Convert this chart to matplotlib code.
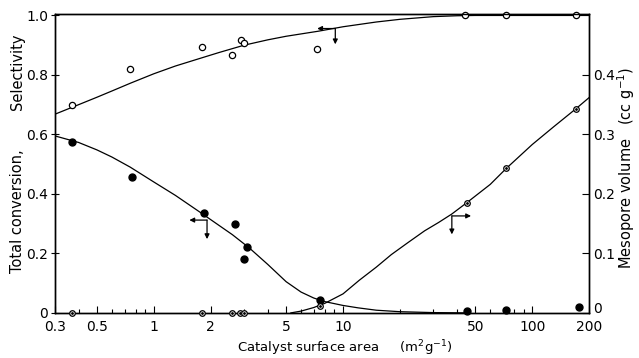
import matplotlib
matplotlib.use('Agg')
import matplotlib.pyplot as plt
from matplotlib.ticker import FixedLocator, NullFormatter

plt.rcParams['font.family'] = ['DejaVu Sans']

# selectivity (open circles, left axis)
sel_x = [0.37, 0.75, 1.8, 2.6, 2.9, 3.0, 7.3, 44, 73, 170]
sel_y = [0.70, 0.82, 0.893, 0.866, 0.919, 0.909, 0.886, 1.0, 1.0, 1.0]
sel_curve_x = [0.3, 0.4, 0.5, 0.6, 0.75, 1.0, 1.3, 1.7, 2.2, 3.0, 4.0, 5.0, 7.4, 10, 15, 20, 30, 40, 50, 200]
sel_curve_y = [0.668, 0.70, 0.725, 0.746, 0.772, 0.804, 0.83, 0.853, 0.875, 0.9, 0.918, 0.93, 0.947, 0.962, 0.978, 0.987, 0.996, 0.999, 1.0, 1.0]

# total conversion (filled circles, left axis)
conv_x = [0.37, 0.77, 1.85, 2.7, 3.1, 3.0, 7.6, 45, 73, 176]
conv_y = [0.575, 0.456, 0.336, 0.298, 0.222, 0.182, 0.042, 0.005, 0.01, 0.02]
conv_curve_x = [0.3, 0.4, 0.5, 0.6, 0.75, 1.0, 1.3, 1.74, 2.2, 2.6, 3.2, 4.0, 5.0, 6.0, 7.0, 8.0, 10, 12, 15, 20, 30, 45]
conv_curve_y = [0.595, 0.573, 0.548, 0.524, 0.49, 0.44, 0.395, 0.34, 0.295, 0.263, 0.218, 0.163, 0.105, 0.07, 0.05, 0.038, 0.025, 0.017, 0.009, 0.004, 0.001, 0.0]

# mesopore volume (dotted circles, right axis)
meso_x = [0.37, 1.8, 2.6, 2.85, 3.0, 7.6, 45, 73, 170]
meso_y = [0.0, 0.0, 0.0, 0.0, 0.0, 0.012, 0.185, 0.243, 0.343]
meso_curve_x = [5.3, 6.0, 7.0, 8.0, 10, 12.2, 15, 18, 22, 27, 32, 37.5, 45, 60, 73, 100, 130, 170, 200]
meso_curve_y = [0.0, 0.003, 0.009, 0.016, 0.032, 0.055, 0.077, 0.098, 0.118, 0.138, 0.152, 0.166, 0.185, 0.216, 0.243, 0.283, 0.313, 0.343, 0.362]

x_ticks = [0.3, 0.5, 1, 2, 5, 10, 50, 100, 200]
x_labels = ['0.3', '0.5', '1', '2', '5', '10', '50', '100', '200']
x_minor = [0.4, 0.6, 0.7, 0.8, 0.9, 3, 4, 6, 7, 8, 9, 20, 30, 40, 60, 70, 80, 90]
left_ticks = [0, 0.2, 0.4, 0.6, 0.8, 1.0]
left_labels = ['0', '0.2', '0.4', '0.6', '0.8', '1.0']
right_ticks = [0, 0.1, 0.2, 0.3, 0.4]
right_labels = ['0', '0.1', '0.2', '0.3', '0.4']

fig = plt.figure(figsize=(6.39, 3.58), dpi=100)
ax = fig.add_axes([0.086, 0.126, 0.836, 0.835])
ax2 = ax.twinx()

lw = 0.9
ax.plot(sel_curve_x, sel_curve_y, '-', color='k', lw=lw)
ax.plot(conv_curve_x, conv_curve_y, '-', color='k', lw=lw)
ax2.plot(meso_curve_x, meso_curve_y, '-', color='k', lw=lw)

ax.plot(sel_x, sel_y, 'o', ms=4.5, mfc='white', mec='k', mew=0.9, ls='none', clip_on=False, zorder=5)
ax.plot(conv_x, conv_y, 'o', ms=5, mfc='k', mec='k', ls='none', clip_on=False, zorder=5)
ax2.plot(meso_x, meso_y, 'o', ms=4, mfc='white', mec='k', mew=0.9, ls='none', clip_on=False, zorder=6)
ax2.plot(meso_x, meso_y, '.', ms=2, color='k', ls='none', clip_on=False, zorder=7)

ax.set_xscale('log')
ax.set_xlim(0.3, 200)
ax.set_ylim(0, 1.005)
ax2.set_ylim(0, 0.5025)

ax.xaxis.set_major_locator(FixedLocator(x_ticks))
ax.set_xticklabels(x_labels)
ax.xaxis.set_minor_locator(FixedLocator(x_minor))
ax.xaxis.set_minor_formatter(NullFormatter())
ax.set_yticks(left_ticks)
ax.set_yticklabels(left_labels)
ax2.set_yticks(right_ticks)
ax2.set_yticklabels(right_labels)

ax.tick_params(axis='x', which='major', direction='in', length=5, width=0.8, labelsize=10, pad=5)
ax.tick_params(axis='x', which='minor', direction='in', length=3, width=0.8)
ax.tick_params(axis='y', direction='inout', length=6, width=0.8, labelsize=10, pad=2)
ax2.tick_params(axis='y', direction='in', length=5, width=0.8, labelsize=10, pad=3)
# the right-hand zero sits a little above the axis line in the original
ax2.get_yticklabels()[0].set_va('baseline')
for a in (ax, ax2):
    for s in a.spines.values():
        s.set_linewidth(1.0)

# axis indicator arrows
ap = dict(arrowstyle='-|>', lw=0.9, color='k', mutation_scale=7, shrinkA=0, shrinkB=0)
ax.annotate('', xy=(7.3, 0.956), xytext=(9.1, 0.956), arrowprops=ap)
ax.annotate('', xy=(9.1, 0.903), xytext=(9.1, 0.956), arrowprops=ap)
ax.annotate('', xy=(1.54, 0.312), xytext=(1.91, 0.312), arrowprops=ap)
ax.annotate('', xy=(1.91, 0.248), xytext=(1.91, 0.312), arrowprops=ap)
ax2.annotate('', xy=(47.5, 0.163), xytext=(37.6, 0.163), arrowprops=ap)
ax2.annotate('', xy=(37.6, 0.132), xytext=(37.6, 0.163), arrowprops=ap)

fig.text(345 / 639, 1 - 348 / 358, 'Catalyst surface area     (m$^2$g$^{-1}$)',
         ha='center', va='center', fontsize=9.5)
fig.text(18 / 639, 1 - 72 / 358, 'Selectivity', rotation=90, ha='center', va='center', fontsize=10.5)
fig.text(18 / 639, 1 - 211 / 358, 'Total conversion,', rotation=90, ha='center', va='center', fontsize=10.5)
fig.text(626 / 639, 1 - 168 / 358, 'Mesopore volume   (cc g$^{-1}$)', rotation=90,
         ha='center', va='center', fontsize=10.5)

fig.savefig('out.png', dpi=100)
